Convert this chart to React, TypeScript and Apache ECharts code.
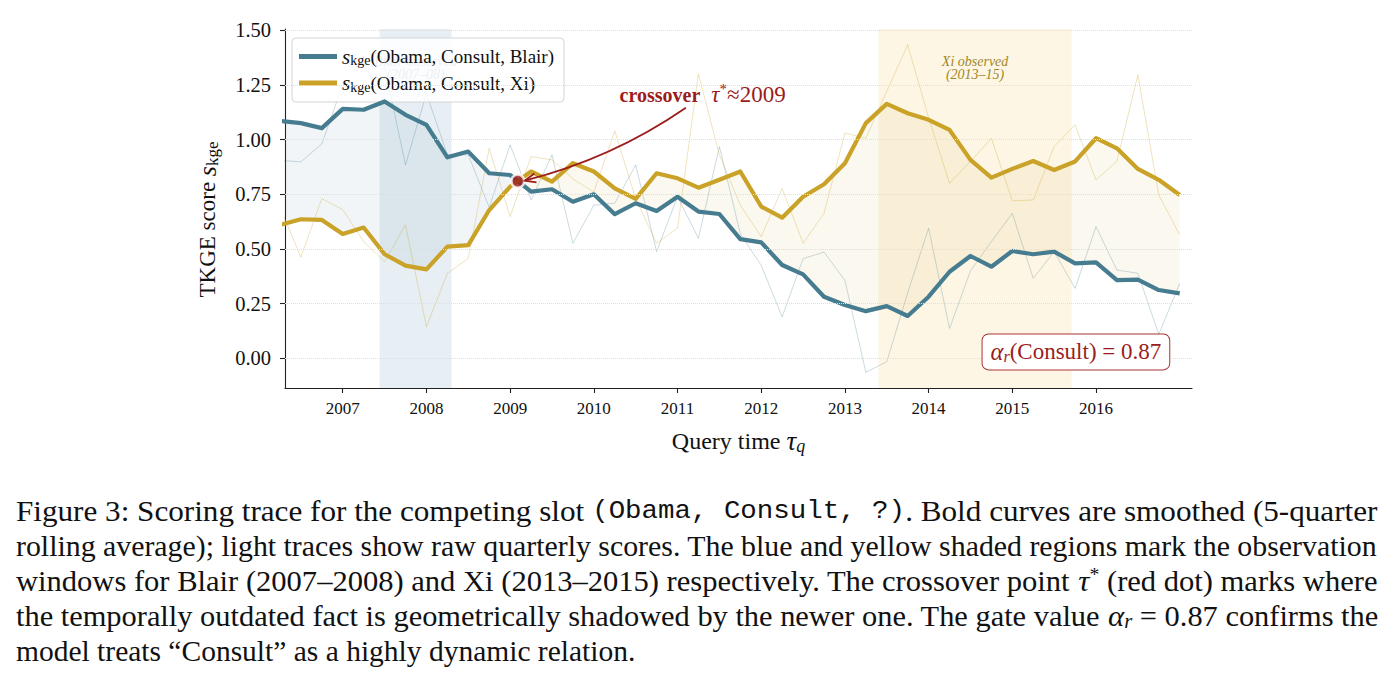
import React, { useEffect, useRef } from "react";
import * as echarts from "echarts";

// ---------------- data ----------------
const quarters = [
  2006.25, 2006.5, 2006.75, 2007.0, 2007.25, 2007.5, 2007.75, 2008.0, 2008.25, 2008.5, 2008.75,
  2009.0, 2009.25, 2009.5, 2009.75, 2010.0, 2010.25, 2010.5, 2010.75, 2011.0, 2011.25, 2011.5,
  2011.75, 2012.0, 2012.25, 2012.5, 2012.75, 2013.0, 2013.25, 2013.5, 2013.75, 2014.0, 2014.25,
  2014.5, 2014.75, 2015.0, 2015.25, 2015.5, 2015.75, 2016.0, 2016.25, 2016.5, 2016.75, 2017.0,
];
const blairSmooth = [
  1.085, 1.075, 1.052, 1.14, 1.136, 1.174, 1.113, 1.067, 0.919, 0.945, 0.846,
  0.838, 0.762, 0.773, 0.716, 0.75, 0.659, 0.709, 0.674, 0.739, 0.671, 0.66,
  0.545, 0.53, 0.427, 0.384, 0.282, 0.244, 0.216, 0.239, 0.194, 0.282, 0.396,
  0.468, 0.419, 0.491, 0.476, 0.488, 0.434, 0.439, 0.358, 0.36, 0.3125, 0.297,
];
const xiSmooth = [
  0.61, 0.636, 0.633, 0.569, 0.598, 0.476, 0.424, 0.407, 0.511, 0.518, 0.678,
  0.785, 0.854, 0.808, 0.892, 0.854, 0.777, 0.729, 0.846, 0.823, 0.78, 0.816,
  0.854, 0.694, 0.643, 0.739, 0.796, 0.892, 1.075, 1.163, 1.12, 1.09, 1.044,
  0.907, 0.826, 0.866, 0.902, 0.861, 0.9, 1.006, 0.96, 0.866, 0.816, 0.747,
];
const blairRaw = [
  0.905, 0.898, 0.98, 1.25, 1.22, 1.33, 0.884, 1.21, 0.93, 0.93, 0.69,
  0.976, 0.724, 0.93, 0.526, 0.7, 0.709, 0.884, 0.488, 0.739, 0.549, 0.968,
  0.57, 0.425, 0.19, 0.456, 0.486, 0.357, -0.063, -0.015, 0.3, 0.595, 0.137,
  0.4, 0.534, 0.663, 0.366, 0.488, 0.32, 0.602, 0.404, 0.389, 0.11, 0.343,
];
const xiRaw = [
  0.69, 0.463, 0.73, 0.68, 0.534, 0.442, 0.61, 0.145, 0.389, 0.457, 0.96,
  0.648, 0.922, 0.907, 0.82, 0.76, 1.04, 0.73, 0.526, 0.595, 1.3, 0.93,
  0.7, 0.556, 0.777, 0.526, 0.663, 1.03, 1.006, 1.22, 1.433, 1.1, 0.8,
  0.9, 1.006, 0.72, 0.724, 0.968, 1.067, 0.816, 0.9, 1.296, 0.747, 0.564,
];
const xTicks = [2007, 2008, 2009, 2010, 2011, 2012, 2013, 2014, 2015, 2016];
const yTicks = [0, 0.25, 0.5, 0.75, 1.0, 1.25, 1.5];
const blairWindow = [2007.44, 2008.3];
const xiWindow = [2013.4, 2015.71];
const alphaConsult = 0.87;
const crossoverYearLabel = "2009";

// axis extents
const X_MIN = 2006.31;
const X_MAX = 2017.147;
const Y_MIN = -0.135;
const Y_MAX = 1.505;

// annotation anchors (data coords)
const crossLabelAt = [2011.3, 1.205];
const arrowStartAt = [2011.1, 1.145];
const alphaBoxAt = [2015.76, 0.03];

// ---------------- style ----------------
const FONT = "'Liberation Serif', 'Times New Roman', Times, serif";
const MONO = "'Liberation Mono', 'DejaVu Sans Mono', monospace";
const BLUE = "#467c8f";
const GOLD = "#c9a227";
const RED = "#9b1c1c";
const INK = "#111111";

type Sample = { x: number; b: number; y: number };

function crossings(): Sample[] {
  const out: Sample[] = [];
  for (let i = 0; i < quarters.length - 1; i++) {
    const d0 = blairSmooth[i] - xiSmooth[i];
    const d1 = blairSmooth[i + 1] - xiSmooth[i + 1];
    if (d0 * d1 < 0) {
      const t = d0 / (d0 - d1);
      const x = quarters[i] + t * (quarters[i + 1] - quarters[i]);
      const v = blairSmooth[i] + t * (blairSmooth[i + 1] - blairSmooth[i]);
      out.push({ x, b: v, y: v });
    }
  }
  return out;
}

function fillSamples(): Sample[] {
  const s: Sample[] = [];
  for (let i = 0; i < quarters.length; i++) {
    s.push({ x: quarters[i], b: blairSmooth[i], y: xiSmooth[i] });
    if (i < quarters.length - 1) {
      const d0 = blairSmooth[i] - xiSmooth[i];
      const d1 = blairSmooth[i + 1] - xiSmooth[i + 1];
      if (d0 * d1 < 0) {
        const t = d0 / (d0 - d1);
        const x = quarters[i] + t * (quarters[i + 1] - quarters[i]);
        const v = blairSmooth[i] + t * (blairSmooth[i + 1] - blairSmooth[i]);
        s.push({ x, b: v, y: v });
      }
    }
  }
  const res: Sample[] = [];
  for (let i = 0; i < s.length; i++) {
    if (s[i].x >= X_MIN) {
      if (res.length === 0 && i > 0 && s[i].x > X_MIN) {
        const p = s[i - 1], q = s[i];
        const t = (X_MIN - p.x) / (q.x - p.x);
        res.push({ x: X_MIN, b: p.b + t * (q.b - p.b), y: p.y + t * (q.y - p.y) });
      }
      res.push(s[i]);
    }
  }
  return res;
}

function buildOption() {
  const pairs = (arr: number[]) => quarters.map((q, i) => [q, arr[i]]);
  const cross = crossings()[0];

  const rich = {
    n: { fontFamily: FONT, fontSize: 19, color: INK },
    it: { fontFamily: FONT, fontSize: 21, fontStyle: "italic", color: INK },
    sub: { fontFamily: FONT, fontSize: 14, color: INK, padding: [8, 0, 0, 0] },
  };

  return {
    animation: false,
    backgroundColor: "#ffffff",
    grid: { left: 285, right: 201, top: 29, bottom: 300, containLabel: false },
    xAxis: {
      type: "value",
      min: X_MIN,
      max: X_MAX,
      axisLine: { show: true, onZero: false, lineStyle: { color: "#222", width: 1.1 } },
      axisTick: { show: true, length: 5, customValues: xTicks, lineStyle: { color: "#222", width: 1.1 } },
      axisLabel: {
        customValues: xTicks,
        formatter: (v: number) => String(Math.round(v)),
        fontFamily: FONT,
        fontSize: 17,
        color: INK,
        margin: 12,
      },
      splitLine: { show: false },
      name: "{n|Query time }{it|τ}{sub|q}",
      nameLocation: "middle",
      nameGap: 38,
      nameTextStyle: {
        fontFamily: FONT,
        fontSize: 24,
        color: INK,
        rich: {
          n: { fontFamily: FONT, fontSize: 24, color: INK },
          it: { fontFamily: FONT, fontSize: 27, fontStyle: "italic", color: INK },
          sub: { fontFamily: FONT, fontSize: 18, fontStyle: "italic", color: INK, padding: [11, 0, 0, 0] },
        },
      },
    },
    yAxis: {
      type: "value",
      min: Y_MIN,
      max: Y_MAX,
      axisLine: { show: true, onZero: false, lineStyle: { color: "#222", width: 1.1 } },
      axisTick: { show: true, length: 5, customValues: yTicks, lineStyle: { color: "#222", width: 1.1 } },
      axisLabel: {
        customValues: yTicks,
        formatter: (v: number) => v.toFixed(2),
        fontFamily: FONT,
        fontSize: 20.5,
        color: INK,
        margin: 14,
      },
      splitLine: { show: false },
      name: "{n|TKGE score }{it|s}{sub|kge}",
      nameLocation: "middle",
      nameGap: 64,
      nameTextStyle: {
        fontFamily: FONT,
        fontSize: 23,
        color: INK,
        padding: [0, 22, 0, 0],
        rich: {
          n: { fontFamily: FONT, fontSize: 23, color: INK },
          it: { fontFamily: FONT, fontSize: 26, fontStyle: "italic", color: INK },
          sub: { fontFamily: FONT, fontSize: 17, color: INK, padding: [10, 0, 0, 0] },
        },
      },
    },
    legend: {
      orient: "vertical",
      left: 292,
      top: 38,
      padding: [8, 10, 8, 7],
      itemGap: 5,
      itemWidth: 38,
      itemHeight: 5,
      selectedMode: false,
      backgroundColor: "rgba(255,255,255,0.85)",
      borderColor: "#d4d4d4",
      borderWidth: 1,
      borderRadius: 4,
      data: [
        { name: "blairS", icon: "rect" },
        { name: "xiS", icon: "rect" },
      ],
      formatter: (name: string) =>
        name === "blairS"
          ? "{it|s}{sub|kge}{n|(Obama, Consult, Blair)}"
          : "{it|s}{sub|kge}{n|(Obama, Consult, Xi)}",
      textStyle: { fontFamily: FONT, fontSize: 19, color: INK, rich },
    },
    series: [
      {
        type: "line",
        name: "bands",
        data: [],
        z: 1,
        silent: true,
        markArea: {
          silent: true,
          data: [
            [
              {
                name: "Blair observed\n(2007–08)",
                xAxis: blairWindow[0],
                itemStyle: { color: "rgba(60,125,165,0.12)" },
                label: {
                  show: true,
                  position: "insideTop",
                  distance: 26,
                  fontFamily: FONT,
                  fontStyle: "italic",
                  fontSize: 14,
                  lineHeight: 13,
                  color: "#7d9aa8",
                },
              },
              { xAxis: blairWindow[1] },
            ],
            [
              {
                name: "Xi observed\n(2013–15)",
                xAxis: xiWindow[0],
                itemStyle: { color: "rgba(235,185,45,0.12)" },
                label: {
                  show: true,
                  position: "insideTop",
                  distance: 26,
                  fontFamily: FONT,
                  fontStyle: "italic",
                  fontSize: 14,
                  lineHeight: 13,
                  color: "#a08726",
                },
              },
              { xAxis: xiWindow[1] },
            ],
          ],
        },
        markLine: {
          silent: true,
          symbol: "none",
          label: { show: false },
          lineStyle: { color: "#dedede", type: "dotted", width: 1 },
          data: yTicks.map((v) => ({ yAxis: v })),
        },
      },
      {
        type: "custom",
        name: "fill",
        z: 2,
        silent: true,
        data: [[quarters[0], blairSmooth[0]]],
        renderItem: (params: any, api: any) => {
          if (params.dataIndex !== 0) return null;
          const s = fillSamples();
          const runs: Sample[][] = [];
          let cur: Sample[] = [];
          for (const p of s) {
            cur.push(p);
            if (p.b === p.y && cur.length > 1) {
              runs.push(cur);
              cur = [p];
            }
          }
          if (cur.length > 1) runs.push(cur);
          const children = runs.map((run) => {
            const sign = run.reduce((acc, p) => acc + (p.b - p.y), 0);
            const top = run.map((p) => api.coord([p.x, Math.max(p.b, p.y)]));
            const bot = run
              .slice()
              .reverse()
              .map((p) => api.coord([p.x, Math.min(p.b, p.y)]));
            return {
              type: "polygon",
              shape: { points: top.concat(bot) },
              style: {
                fill: sign > 0 ? "rgba(70,124,143,0.075)" : "rgba(201,162,39,0.075)",
              },
            };
          });
          return { type: "group", children };
        },
      },
      {
        type: "line",
        name: "blairRaw",
        data: pairs(blairRaw),
        showSymbol: false,
        symbol: "none",
        z: 3,
        silent: true,
        lineStyle: { color: "rgba(70,124,143,0.28)", width: 1 },
      },
      {
        type: "line",
        name: "xiRaw",
        data: pairs(xiRaw),
        showSymbol: false,
        symbol: "none",
        z: 3,
        silent: true,
        lineStyle: { color: "rgba(201,162,39,0.3)", width: 1 },
      },
      {
        type: "line",
        name: "blairS",
        data: pairs(blairSmooth),
        showSymbol: false,
        symbol: "none",
        z: 4,
        color: BLUE,
        lineStyle: { color: BLUE, width: 4.2, join: "round" },
      },
      {
        type: "line",
        name: "xiS",
        data: pairs(xiSmooth),
        showSymbol: false,
        symbol: "none",
        z: 4,
        color: GOLD,
        lineStyle: { color: GOLD, width: 4.2, join: "round" },
      },
      {
        type: "scatter",
        name: "crossover",
        data: [[cross.x, cross.b]],
        symbolSize: 13,
        z: 6,
        silent: true,
        itemStyle: { color: RED, borderColor: "#ffffff", borderWidth: 2.5 },
      },
    ],
  };
}

// caption: tokens [richStyle, text]
type Tok = [string, string];
const CAPTION_LINES: Tok[][] = [
  [["n", "Figure 3: Scoring trace for the competing slot "], ["tt", "(Obama, Consult, ?)"], ["n", ". Bold curves are smoothed (5-quarter"]],
  [["n", "rolling average); light traces show raw quarterly scores. The blue and yellow shaded regions mark the observation"]],
  [["n", "windows for Blair (2007–2008) and Xi (2013–2015) respectively. The crossover point "], ["it", "τ"], ["sup", "*"], ["n", " (red dot) marks where"]],
  [["n", "the temporally outdated fact is geometrically shadowed by the newer one. The gate value "], ["it", "α"], ["sub", "r"], ["n", " = 0.87 confirms the"]],
  [["n", "model treats “Consult” as a highly dynamic relation."]],
];

function captionGraphics() {
  const rich: Record<string, any> = {
    n: { fontFamily: FONT, fontSize: 29.5, fill: INK },
    tt: { fontFamily: MONO, fontSize: 26, fill: INK },
    it: { fontFamily: FONT, fontSize: 30, fontStyle: "italic", fill: INK },
    sup: { fontFamily: FONT, fontSize: 19, fill: INK, padding: [0, 0, 12, 0] },
    sub: { fontFamily: FONT, fontSize: 20, fontStyle: "italic", fill: INK, padding: [10, 0, 0, 0] },
  };
  let ctx: CanvasRenderingContext2D | null = null;
  try {
    ctx = document.createElement("canvas").getContext("2d");
  } catch (e) {
    ctx = null;
  }
  const measure = (toks: Tok[]) => {
    if (!ctx) return 0;
    let w = 0;
    for (const [st, txt] of toks) {
      const r = rich[st];
      ctx.font = `${r.fontStyle || "normal"} ${r.fontWeight || "normal"} ${r.fontSize}px ${r.fontFamily}`;
      w += ctx.measureText(txt).width;
    }
    return w;
  };
  const TARGET = 1362;
  return CAPTION_LINES.map((toks, i) => {
    const text = toks.map(([st, t]) => `{${st}|${t}}`).join("");
    const justify = i < CAPTION_LINES.length - 1;
    const w = measure(toks);
    const sx = justify && w > 0 ? Math.min(1.08, Math.max(0.95, TARGET / w)) : 1;
    return {
      type: "text",
      x: 16,
      y: 511 + i * 35,
      scaleX: sx,
      silent: true,
      style: {
        text,
        rich,
        fontFamily: FONT,
        fontSize: 29.5,
        fill: INK,
        align: "left",
        verticalAlign: "middle",
      },
    };
  });
}

export default function App() {
  const ref = useRef<HTMLDivElement>(null);

  useEffect(() => {
    const el = ref.current;
    if (!el) return;
    const chart = echarts.init(el, null, { renderer: "svg" });
    chart.setOption(buildOption() as any);

    const toPx = (p: number[]) => chart.convertToPixel({ gridIndex: 0 }, p) as unknown as number[];
    const cross = crossings()[0];
    const dotPx = toPx([cross.x, cross.b]);
    const startPx = toPx(arrowStartAt);
    const tip = [dotPx[0] + 7, dotPx[1] - 0.5];
    const mid = [(startPx[0] + tip[0]) / 2, (startPx[1] + tip[1]) / 2];
    const dx = tip[0] - startPx[0];
    const dy = tip[1] - startPx[1];
    const len = Math.hypot(dx, dy);
    let nx = -dy / len;
    let ny = dx / len;
    if (ny < 0) {
      nx = -nx;
      ny = -ny;
    }
    const cp = [mid[0] + nx * 16, mid[1] + ny * 16];
    const tdx = tip[0] - cp[0];
    const tdy = tip[1] - cp[1];
    const tl = Math.hypot(tdx, tdy);
    const ux = tdx / tl;
    const uy = tdy / tl;
    const L = 11;
    const W = 4.5;
    const wing1 = [tip[0] - L * ux - W * uy, tip[1] - L * uy + W * ux];
    const wing2 = [tip[0] - L * ux + W * uy, tip[1] - L * uy - W * ux];

    const labelPx = toPx(crossLabelAt);
    const boxPx = toPx(alphaBoxAt);

    const graphics: any[] = [
      {
        type: "bezierCurve",
        silent: true,
        z: 10,
        shape: { x1: startPx[0], y1: startPx[1], x2: tip[0], y2: tip[1], cpx1: cp[0], cpy1: cp[1] },
        style: { stroke: RED, lineWidth: 1.8, fill: null },
      },
      {
        type: "polyline",
        silent: true,
        z: 10,
        shape: { points: [wing1, tip, wing2] },
        style: { stroke: RED, lineWidth: 1.8, fill: null },
      },
      {
        type: "text",
        silent: true,
        z: 10,
        x: labelPx[0],
        y: labelPx[1],
        style: {
          text: "{b|crossover}  {it|τ}{sup|*}{n|≈" + crossoverYearLabel + "}",
          fill: RED,
          fontFamily: FONT,
          fontSize: 22,
          rich: {
            b: { fontFamily: FONT, fontSize: 20, fontWeight: "bold", fill: RED },
            it: { fontFamily: FONT, fontSize: 23, fontStyle: "italic", fill: RED },
            sup: { fontFamily: FONT, fontSize: 15, fill: RED, padding: [0, 0, 11, 0] },
            n: { fontFamily: FONT, fontSize: 23, fill: RED },
          },
          align: "center",
          verticalAlign: "middle",
        },
      },
      {
        type: "text",
        silent: true,
        z: 10,
        x: boxPx[0],
        y: boxPx[1],
        style: {
          text: "{it|α}{sub|r}{n|(Consult) = " + alphaConsult.toFixed(2) + "}",
          fill: RED,
          fontFamily: FONT,
          fontSize: 23,
          rich: {
            it: { fontFamily: FONT, fontSize: 24.5, fontStyle: "italic", fill: RED },
            sub: { fontFamily: FONT, fontSize: 16, fontStyle: "italic", fill: RED, padding: [9, 0, 0, 0] },
            n: { fontFamily: FONT, fontSize: 23, fill: RED },
          },
          align: "center",
          verticalAlign: "middle",
          backgroundColor: "#ffffff",
          borderColor: "#a83232",
          borderWidth: 1,
          borderRadius: 6,
          padding: [5, 8, 5, 8],
        },
      },
      ...captionGraphics(),
    ];
    chart.setOption({ graphic: graphics } as any);

    return () => {
      chart.dispose();
    };
  }, []);

  return (
    <div
      ref={ref}
      style={{ position: "fixed", left: 0, top: 0, width: 1393, height: 688, background: "#ffffff" }}
    />
  );
}
